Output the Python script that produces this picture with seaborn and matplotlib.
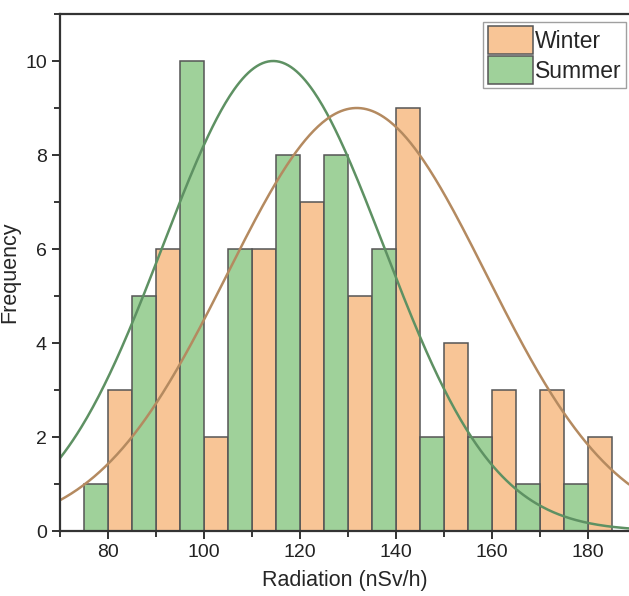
import numpy as np
import pandas as pd
import matplotlib
matplotlib.use("Agg")
import matplotlib.pyplot as plt
from matplotlib.patches import Patch
from matplotlib.ticker import MultipleLocator
import seaborn as sns

# bar left edges (nSv/h) and counts per season
summer_bins = [75, 85, 95, 105, 115, 125, 135, 145, 155, 165, 175]
summer_counts = [1, 5, 10, 6, 8, 8, 6, 2, 2, 1, 1]
winter_bins = [80, 90, 100, 110, 120, 130, 140, 150, 160, 170, 180]
winter_counts = [3, 6, 2, 6, 7, 5, 9, 4, 3, 3, 2]

# normal fit curves (mean, sd, peak height)
summer_fit = (114.4, 23.0, 10.0)
winter_fit = (131.8, 27.0, 9.0)

seasons = ["Winter", "Summer"]
fill_colors = {"Winter": "#f8c596", "Summer": "#9fd19a"}
curve_colors = {"Winter": "#b48a60", "Summer": "#5e9163"}

bar_width = 5

df = pd.DataFrame({
    "center": [b + bar_width / 2 for b in summer_bins] + [b + bar_width / 2 for b in winter_bins],
    "count": summer_counts + winter_counts,
    "season": ["Summer"] * len(summer_bins) + ["Winter"] * len(winter_bins),
})

xs = np.linspace(70, 188.5, 400)
curves = []
for name, (mu, sd, peak) in [("Summer", summer_fit), ("Winter", winter_fit)]:
    curves.append(pd.DataFrame({"x": xs, "y": peak * np.exp(-(xs - mu) ** 2 / (2 * sd ** 2)), "season": name}))
curve_df = pd.concat(curves, ignore_index=True)

sns.set_style("ticks")
plt.rcParams["font.family"] = ["Liberation Sans", "DejaVu Sans"]

fig = plt.figure(figsize=(6.29, 5.96), dpi=100)
ax = fig.add_axes([0.0954, 0.109, 0.9046, 0.8675])

sns.histplot(data=df, x="center", weights="count", hue="season", binwidth=bar_width,
             binrange=(75, 185), multiple="layer", palette=fill_colors, alpha=1,
             edgecolor="#555555", linewidth=1.1, legend=False, ax=ax)
sns.lineplot(data=curve_df, x="x", y="y", hue="season", palette=curve_colors,
             linewidth=1.8, legend=False, ax=ax)

ax.set_xlim(70, 188.5)
ax.set_ylim(0, 11)
ax.xaxis.set_major_locator(MultipleLocator(20))
ax.xaxis.set_minor_locator(MultipleLocator(10))
ax.yaxis.set_major_locator(MultipleLocator(2))
ax.yaxis.set_minor_locator(MultipleLocator(1))
ax.tick_params(which="major", length=6, width=1.3, labelsize=14, colors="#222222")
ax.tick_params(which="minor", length=4, width=1.3)
ax.set_xlabel("Radiation (nSv/h)", fontsize=15.5, labelpad=6)
ax.set_ylabel("Frequency", fontsize=15.5)
ax.yaxis.set_label_coords(-0.07, 0.5)

for side in ["left", "bottom", "top"]:
    ax.spines[side].set_linewidth(1.6)
    ax.spines[side].set_color("#333333")
ax.spines["right"].set_visible(False)

handles = [Patch(facecolor=fill_colors[s], edgecolor="#555555", linewidth=1.1, label=s) for s in seasons]
ax.legend(handles=handles, loc="upper right", bbox_to_anchor=(0.995, 0.985), fontsize=16.5,
          frameon=True, fancybox=False, edgecolor="#888888", handlelength=1.95, handleheight=1.45,
          handletextpad=0.1, borderpad=0.2, labelspacing=0.12, borderaxespad=0)

fig.savefig("out.png", dpi=100)
